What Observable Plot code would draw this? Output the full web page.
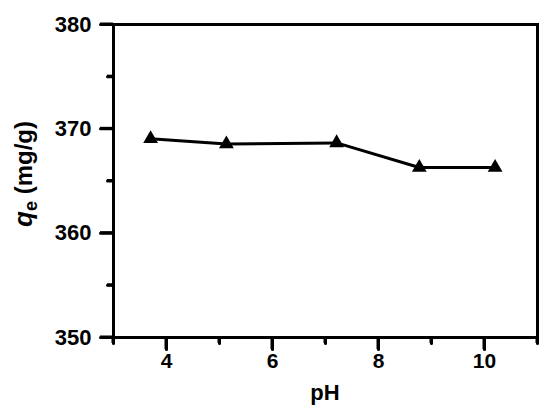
<!DOCTYPE html>
<html>
<head>
<meta charset="utf-8">
<script src="https://cdn.jsdelivr.net/npm/d3@7"></script>
<script src="https://cdn.jsdelivr.net/npm/@observablehq/plot@0.6"></script>
</head>
<body style="margin:0;background:#fff">
<div id="chart"></div>
<script>
const pH = [3.7, 5.13, 7.21, 8.77, 10.2];
const qe = [369.05, 368.55, 368.65, 366.3, 366.3];
const xMajorTicks = [4, 6, 8, 10];
const xMinorTicks = [3, 5, 7, 9, 11];
const yMajorTicks = [350, 360, 370, 380];
const yMinorTicks = [355, 365, 375];

const data = pH.map((x, i) => ({pH: x, qe: qe[i]}));
const font = "'Liberation Sans', Arial, sans-serif";
const W = 550, H = 416, ML = 113, MT = 24, MR = 13, MB = 79;
const innerW = W - ML - MR, innerH = H - MT - MB;
const xDomain = [3, 11], yDomain = [350, 380];
const pxX = (xDomain[1] - xDomain[0]) / innerW;
const pxY = (yDomain[1] - yDomain[0]) / innerH;

const stub = {draw(context, l) { context.moveTo(0, 0); context.lineTo(0, -l); }};

const xTickRect = (ticks, len) => Plot.rect(ticks, {
  x1: d => d - 1.5 * pxX, x2: d => d + 1.5 * pxX,
  y1: yDomain[0], y2: yDomain[0] - len * pxY, fill: "#000", clip: false
});
const yTickRect = (ticks, len) => Plot.rect(ticks, {
  y1: d => d - 1.5 * pxY, y2: d => d + 1.5 * pxY,
  x1: xDomain[0], x2: xDomain[0] - len * pxX, fill: "#000", clip: false
});
const xTickVec = (ticks, len) => Plot.vector(ticks, {
  x: d => d, y: () => yDomain[0], length: len, rotate: 180, anchor: "start",
  shape: stub, stroke: "#000", strokeWidth: 3, clip: false
});
const yTickVec = (ticks, len) => Plot.vector(ticks, {
  x: () => xDomain[0], y: d => d, length: len, rotate: 270, anchor: "start",
  shape: stub, stroke: "#000", strokeWidth: 3, clip: false
});

const chart = Plot.plot({
  width: W,
  height: H,
  marginLeft: ML,
  marginTop: MT,
  marginRight: MR,
  marginBottom: MB,
  x: {domain: xDomain},
  y: {domain: yDomain},
  marks: [
    xTickRect(xMajorTicks, 12), xTickRect(xMinorTicks, 6),
    yTickRect(yMajorTicks, 13), yTickRect(yMinorTicks, 6),
    xTickVec(xMajorTicks, 12), xTickVec(xMinorTicks, 6),
    yTickVec(yMajorTicks, 13), yTickVec(yMinorTicks, 6),
    Plot.axisX({ticks: xMajorTicks, tickSize: 0, tickPadding: 16, fontSize: 21, fontWeight: "bold", fontFamily: font, label: null, tickFormat: d => String(d)}),
    Plot.axisY({ticks: yMajorTicks, tickSize: 0, tickPadding: 22, fontSize: 22, fontWeight: "bold", fontFamily: font, label: null, tickFormat: d => String(d)}),
    Plot.frame({stroke: "#000", strokeWidth: 3}),
    Plot.line(data, {x: "pH", y: "qe", stroke: "#000", strokeWidth: 3}),
    Plot.dot(data, {x: "pH", y: "qe", symbol: "triangle", r: 5.5, fill: "#000"})
  ]
});

const svg = d3.select(chart);
svg.append("text")
  .attr("x", ML + innerW / 2)
  .attr("y", 400)
  .attr("text-anchor", "middle")
  .attr("font-family", font)
  .attr("font-size", 22)
  .attr("font-weight", "bold")
  .attr("fill", "#000")
  .text("pH");
const yl = svg.append("text")
  .attr("transform", "translate(32,174) rotate(-90)")
  .attr("text-anchor", "middle")
  .attr("font-family", font)
  .attr("font-size", 24)
  .attr("font-weight", "bold")
  .attr("fill", "#000");
yl.append("tspan").attr("font-style", "italic").attr("font-size", 26).text("q");
yl.append("tspan").attr("font-size", 18).attr("dy", 5).text("e");
yl.append("tspan").attr("dy", -5).text(" (mg/g)");

document.getElementById("chart").appendChild(chart);
</script>
</body>
</html>
